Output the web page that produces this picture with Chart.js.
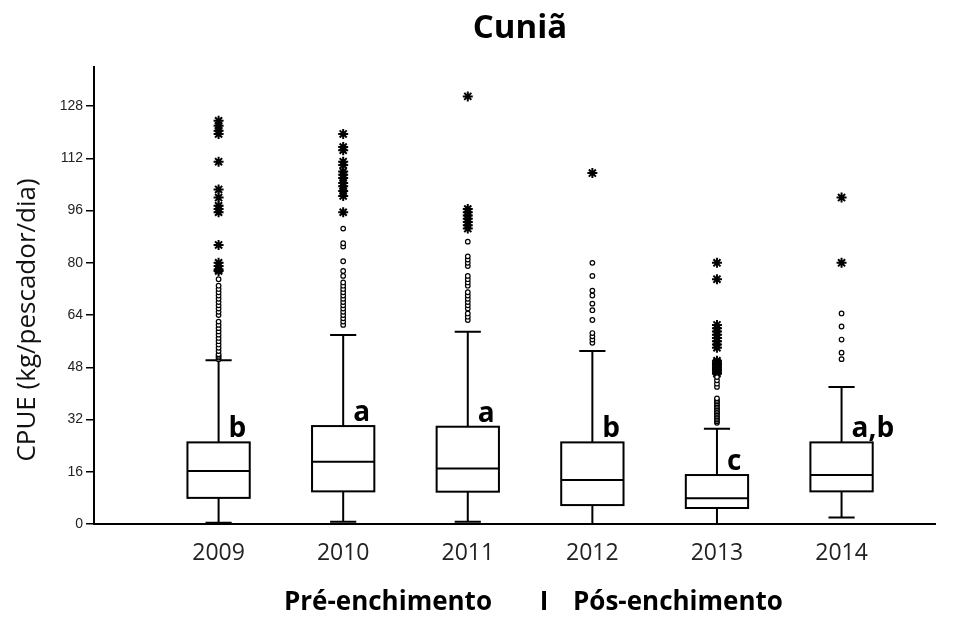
<!DOCTYPE html>
<html>
<head>
<meta charset="utf-8">
<title>Cuniã</title>
<script src="https://cdn.jsdelivr.net/npm/chart.js@4.4.0/dist/chart.umd.min.js"></script>
<style>
  html, body { margin: 0; padding: 0; background: #fff; }
  #wrap { width: 955px; height: 633px; }
</style>
</head>
<body>
<div id="wrap"><canvas id="myChart"></canvas></div>
<script>
// CPUE boxplots per year (approx.)
var years = [2009, 2010, 2011, 2012, 2013, 2014];
var whiskerLow = [0.4, 0.7, 0.7, 0, 0, 2.0];
var q1 = [8.0, 10.0, 9.9, 5.8, 4.9, 10.0];
var median = [16.2, 19.1, 17.0, 13.5, 7.9, 15.0];
var q3 = [25.0, 30.0, 29.8, 25.0, 15.0, 25.0];
var whiskerHigh = [50.2, 57.9, 58.9, 53.0, 29.2, 42.0];
var groupLetters = ['b', 'a', 'a', 'b', 'c', 'a,b'];
var yTicks = [0, 16, 32, 48, 64, 80, 96, 112, 128];

// outliers (circles), one list per year
var outliers = [
  [50.5, 51, 51.5, 52, 53, 54, 55, 56, 57, 58, 59, 60, 61, 62, 64, 65, 66, 67, 68, 69, 70, 71, 72, 73, 75],
  [61, 62, 63, 64, 65, 66, 67, 68, 69, 70, 71, 72, 73, 74, 76, 77.5, 80.5, 85, 86, 90.5],
  [62.5, 63.5, 64.5, 66, 67, 68, 69, 70, 71, 73, 74, 75, 76, 79, 80, 81, 82, 86.5],
  [55.5, 56.5, 57.5, 58.5, 62.5, 65.5, 67.5, 70, 71.5, 76, 80],
  [31, 31.5, 32, 32.5, 33, 33.5, 34, 34.5, 35, 35.5, 36, 36.5, 37, 37.5, 38, 38.5, 42, 43, 44, 45],
  [50.5, 52.5, 56.5, 60.5, 64.5]
];
// extreme values (asterisks), one list per year
var extremes = [
  [77.5, 78, 79, 80, 85.5, 95.5, 96.5, 97.5, 100, 102.5, 111, 119.5, 120.5, 122, 123.5],
  [95.5, 100.5, 102, 103.5, 104.5, 106, 107, 108, 110, 111, 114.5, 115.5, 119.5],
  [90.5, 91.5, 92.5, 93.5, 94.5, 95.5, 96.5, 131],
  [107.5],
  [46, 46.5, 47, 47.5, 48, 48.5, 49, 49.5, 50, 54, 55, 56, 57, 58, 59, 60, 61, 75, 80],
  [80, 100]
];

function toPoints(lists) {
  var pts = [];
  lists.forEach(function (vals, i) {
    vals.forEach(function (v) { pts.push({ x: years[i], y: v }); });
  });
  return pts;
}

var BOX_W = 0.5, CAP_W = 0.21;

// boxes + whiskers, drawn with the chart's own scales
var boxPlugin = {
  id: 'boxes',
  beforeDatasetsDraw: function (chart) {
    var ctx = chart.ctx, xs = chart.scales.x, ys = chart.scales.y;
    ctx.save();
    ctx.strokeStyle = '#000';
    ctx.lineWidth = 2;
    for (var i = 0; i < years.length; i++) {
      var cx = xs.getPixelForValue(years[i]);
      var hw = xs.getPixelForValue(years[i] + BOX_W / 2) - cx;
      var cw = xs.getPixelForValue(years[i] + CAP_W / 2) - cx;
      var yLo = ys.getPixelForValue(whiskerLow[i]);
      var yQ1 = ys.getPixelForValue(q1[i]);
      var yMed = ys.getPixelForValue(median[i]);
      var yQ3 = ys.getPixelForValue(q3[i]);
      var yHi = ys.getPixelForValue(whiskerHigh[i]);

      ctx.beginPath();
      ctx.moveTo(cx, yLo); ctx.lineTo(cx, yQ1);
      ctx.moveTo(cx, yQ3); ctx.lineTo(cx, yHi);
      ctx.moveTo(cx - cw, yLo); ctx.lineTo(cx + cw, yLo);
      ctx.moveTo(cx - cw, yHi); ctx.lineTo(cx + cw, yHi);
      ctx.stroke();

      ctx.fillStyle = '#fff';
      ctx.fillRect(cx - hw, yQ3, hw * 2, yQ1 - yQ3);
      ctx.strokeRect(cx - hw, yQ3, hw * 2, yQ1 - yQ3);

      ctx.beginPath();
      ctx.moveTo(cx - hw, yMed); ctx.lineTo(cx + hw, yMed);
      ctx.stroke();
    }
    ctx.restore();
  },
  afterDraw: function (chart) {
    var ctx = chart.ctx, xs = chart.scales.x, ys = chart.scales.y;
    ctx.save();
    ctx.fillStyle = '#000';

    // group letters
    ctx.font = 'bold 28px "Open Sans"';
    ctx.textAlign = 'left';
    ctx.textBaseline = 'alphabetic';
    for (var i = 0; i < years.length; i++) {
      ctx.fillText(groupLetters[i], xs.getPixelForValue(years[i] + 0.08), ys.getPixelForValue(q3[i]) - 5);
    }

    // title
    ctx.font = 'bold 33px "Open Sans"';
    ctx.textAlign = 'center';
    ctx.fillText('Cuniã', 520, 38);

    // bottom period labels
    ctx.font = 'bold 26px "Open Sans"';
    ctx.textAlign = 'right';
    ctx.fillText('Pré-enchimento', 492, 610);
    ctx.textAlign = 'center';
    ctx.fillText('I', 544, 610);
    ctx.textAlign = 'left';
    ctx.fillText('Pós-enchimento', 573, 610);

    // y title
    ctx.font = '26px "Open Sans"';
    ctx.translate(28, 320);
    ctx.rotate(-Math.PI / 2);
    ctx.textAlign = 'center';
    ctx.textBaseline = 'middle';
    ctx.fillStyle = '#111';
    ctx.fillText('CPUE (kg/pescador/dia)', 0, 0);
    ctx.restore();
  }
};

var ctx = document.getElementById('myChart').getContext('2d');
var chart = new Chart(ctx, {
  type: 'scatter',
  data: {
    datasets: [{
      label: 'outliers',
      data: toPoints(outliers),
      pointStyle: 'circle',
      pointRadius: 2.3,
      borderWidth: 1.2,
      borderColor: '#000',
      backgroundColor: '#fff'
    }, {
      label: 'extremes',
      data: toPoints(extremes),
      pointStyle: 'star',
      pointRadius: 5,
      borderWidth: 2,
      borderColor: '#000',
      backgroundColor: '#000'
    }]
  },
  options: {
    responsive: true,
    maintainAspectRatio: false,
    animation: false,
    layout: { padding: { top: 67, right: 20, bottom: 0, left: 0 } },
    plugins: {
      legend: { display: false },
      tooltip: { enabled: false }
    },
    scales: {
      x: {
        type: 'linear',
        min: 2008,
        max: 2014.75,
        afterFit: function (scale) { scale.height = 109; },
        grid: { display: false, drawTicks: false },
        border: { display: true, color: '#000', width: 2 },
        ticks: {
          stepSize: 1,
          includeBounds: false,
          maxRotation: 0,
          autoSkip: false,
          padding: 16,
          color: '#222',
          font: { family: 'Open Sans', size: 23 },
          callback: function (v) { return years.indexOf(v) >= 0 ? String(v) : ''; }
        }
      },
      y: {
        min: 0,
        max: 140,
        afterFit: function (scale) { scale.width = 94; },
        grid: { display: true, drawOnChartArea: false, drawTicks: true, tickLength: 8, color: '#000', lineWidth: 1.5 },
        border: { display: true, color: '#000', width: 2 },
        afterBuildTicks: function (scale) {
          scale.ticks = yTicks.map(function (v) { return { value: v }; });
        },
        ticks: {
          padding: 3,
          color: '#222',
          font: { family: 'Liberation Sans', size: 14 },
          callback: function (v) { return String(v); }
        }
      }
    }
  },
  plugins: [boxPlugin]
});
</script>
</body>
</html>
